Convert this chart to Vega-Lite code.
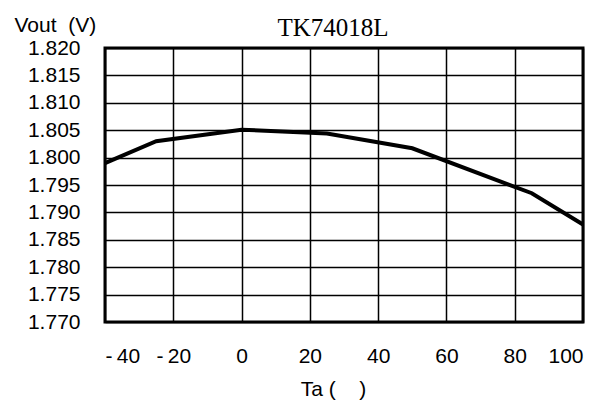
{
  "$schema": "https://vega.github.io/schema/vega-lite/v6.json",
  "width": 478,
  "height": 274,
  "autosize": {"type": "none"},
  "padding": {"left": 105, "top": 48, "right": 29, "bottom": 81},
  "background": "white",
  "config": {
    "view": {"stroke": "black", "strokeWidth": 3},
    "font": "Liberation Sans"
  },
  "title": {
    "text": "TK74018L",
    "font": "Liberation Serif",
    "fontSize": 25,
    "fontWeight": "normal",
    "color": "black",
    "anchor": "middle",
    "frame": "group",
    "dx": -11,
    "dy": 31,
    "offset": 4
  },
  "data": {
    "values": [
      {"Ta": -40, "Vout": 1.7990},
      {"Ta": -25, "Vout": 1.8030},
      {"Ta": 0, "Vout": 1.8051},
      {"Ta": 25, "Vout": 1.8044},
      {"Ta": 50, "Vout": 1.8017},
      {"Ta": 85, "Vout": 1.7935},
      {"Ta": 100, "Vout": 1.7878}
    ]
  },
  "mark": {"type": "line", "color": "black", "strokeWidth": 4, "strokeJoin": "miter"},
  "encoding": {
    "x": {
      "field": "Ta",
      "type": "quantitative",
      "scale": {"domain": [-40, 100], "nice": false, "zero": false},
      "axis": {
        "values": [-40, -20, 0, 20, 40, 60, 80, 100],
        "labelExpr": "datum.value < 0 ? '-\u2009' + abs(datum.value) : '' + datum.value",
        "title": "Ta (\u00a0\u00a0\u00a0\u00a0)",
        "titleFont": "Liberation Sans",
        "titleFontSize": 21,
        "titleFontWeight": "normal",
        "titleColor": "black",
        "titlePadding": 12,
        "titleX": 228,
        "labelFont": "Liberation Sans",
        "labelFontSize": 21,
        "labelColor": "black",
        "labelPadding": 23,
        "ticks": false,
        "domain": false,
        "grid": true,
        "gridColor": "black",
        "gridWidth": 1.5,
        "gridOpacity": 1
      }
    },
    "y": {
      "field": "Vout",
      "type": "quantitative",
      "scale": {"domain": [1.77, 1.82], "nice": false, "zero": false},
      "axis": {
        "values": [1.77, 1.775, 1.78, 1.785, 1.79, 1.795, 1.8, 1.805, 1.81, 1.815, 1.82],
        "format": ".3f",
        "title": "Vout\u00a0\u00a0(V)",
        "titleFont": "Liberation Sans",
        "titleFontSize": 21,
        "titleFontWeight": "normal",
        "titleColor": "black",
        "titleAngle": 0,
        "titleAlign": "left",
        "titleBaseline": "alphabetic",
        "titleX": -91,
        "titleY": -17,
        "labelFont": "Liberation Sans",
        "labelFontSize": 21,
        "labelColor": "black",
        "labelPadding": 25,
        "ticks": false,
        "domain": false,
        "grid": true,
        "gridColor": "black",
        "gridWidth": 1.5,
        "gridOpacity": 1
      }
    }
  }
}
